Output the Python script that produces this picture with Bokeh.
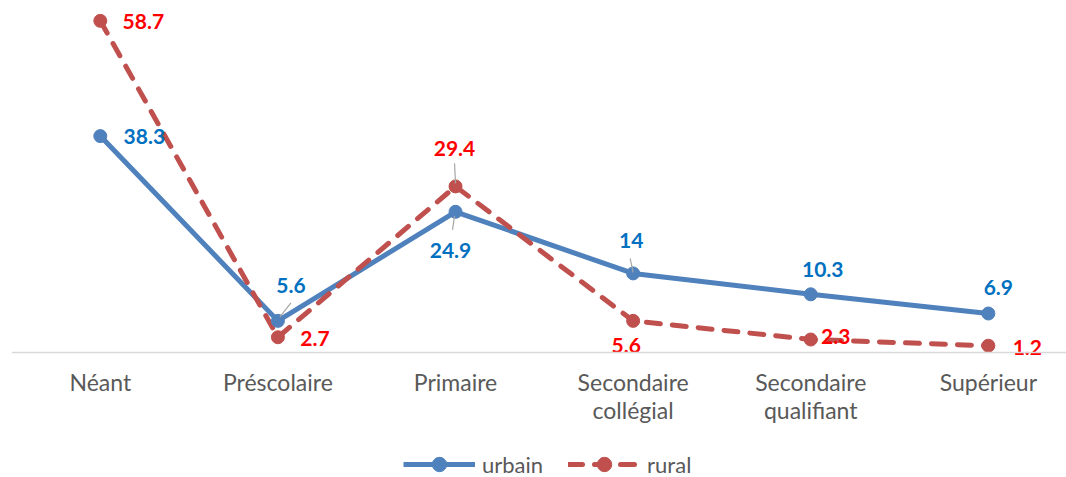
from bokeh.plotting import figure
from bokeh.models import Range1d, FixedTicker, ColumnDataSource, Legend, LegendItem
from bokeh.core.properties import value
from bokeh.embed import file_html
from bokeh.resources import INLINE

# ---- data ----
categories = ["Néant", "Préscolaire", "Primaire", "Secondaire\ncollégial",
              "Secondaire\nqualifiant", "Supérieur"]
urbain = [38.3, 5.6, 24.9, 14, 10.3, 6.9]
rural = [58.7, 2.7, 29.4, 5.6, 2.3, 1.2]
urbain_labels = ["38.3", "5.6", "24.9", "14", "10.3", "6.9"]
rural_labels = ["58.7", "2.7", "29.4", "5.6", "2.3", "1.2"]

# ---- label placement (screen px, style only) ----
urbain_dx = [44, 13, -5, -2, 12, 10]
urbain_dy = [0, -35, 39, -33, -25, -26]
rural_dx = [43, 37, -1, -7, 25, 39]
rural_dy = [1, 1, -38, 25, -3, 2]
# leader lines: (series, index, start dx, start dy, end dx, end dy) in px
leaders = [("u", 1, 2, -4, 13, -18),
           ("r", 2, -1, -23, 0, -3),
           ("u", 2, -3, 18, -1, 4),
           ("u", 3, -3, -15, 0, -1)]

FONT = "Lato"
BLUE = "#4F81BD"
RED = "#C0504D"
W, H = 1066, 477
BL = 11
PX_PER_UNIT = 5.65       # vertical scale
AXIS_Y_PX = 352          # screen row of the value 0
X0, X1 = -0.5, 5.44
Y0 = -(H - AXIS_Y_PX) / PX_PER_UNIT
Y1 = AXIS_Y_PX / PX_PER_UNIT

xs = list(range(len(categories)))

p = figure(width=W, height=H, output_backend="svg", toolbar_location=None,
           x_range=Range1d(X0, X1), y_range=Range1d(Y0, Y1),
           y_axis_location=None, min_border_left=BL, min_border_right=0,
           min_border_top=0, min_border_bottom=0)
p.outline_line_color = None
p.xgrid.visible = False
p.ygrid.visible = False
p.background_fill_color = "white"
p.border_fill_color = "white"

ax = p.xaxis[0]
ax.fixed_location = 0
ax.ticker = FixedTicker(ticks=xs)
ax.major_label_overrides = {i: c for i, c in zip(xs, categories)}
ax.axis_line_color = "#d9d9d9"
ax.axis_line_width = 1.5
ax.major_tick_line_color = None
ax.minor_tick_line_color = None
ax.major_label_text_font = FONT
ax.major_label_text_font_size = "23px"
ax.major_label_text_color = "#595959"
ax.major_label_text_line_height = 1.01
ax.major_label_standoff = 9

src_u = ColumnDataSource(dict(x=xs, y=urbain, t=urbain_labels, dx=urbain_dx, dy=urbain_dy))
src_r = ColumnDataSource(dict(x=xs, y=rural, t=rural_labels, dx=rural_dx, dy=rural_dy))

lu = p.line("x", "y", source=src_u, line_color=BLUE, line_width=5, line_join="round")
lr = p.line("x", "y", source=src_r, line_color=RED, line_width=5, line_dash="14 12",
            line_cap="round", line_join="round")
su = p.scatter("x", "y", source=src_u, size=13, fill_color=BLUE, line_color=BLUE)
sr = p.scatter("x", "y", source=src_r, size=13, fill_color=RED, line_color=RED)

# leader lines
px_x = (W - BL) / (X1 - X0)
px_y = PX_PER_UNIT
lx0, ly0, lx1, ly1 = [], [], [], []
for s, i, sdx, sdy, edx, edy in leaders:
    yv = urbain[i] if s == "u" else rural[i]
    lx0.append(xs[i] + sdx / px_x)
    ly0.append(yv - sdy / px_y)
    lx1.append(xs[i] + edx / px_x)
    ly1.append(yv - edy / px_y)
p.segment(lx0, ly0, lx1, ly1, line_color="#a6a6a6", line_width=1.2)

p.text("x", "y", text="t", source=src_u, x_offset="dx", y_offset="dy",
       text_align="center", text_baseline="middle", text_font=value(FONT),
       text_font_style="bold", text_font_size="21px", text_color="#0070C0")
p.text("x", "y", text="t", source=src_r, x_offset="dx", y_offset="dy",
       text_align="center", text_baseline="middle", text_font=value(FONT),
       text_font_style="bold", text_font_size="21px", text_color="#FF0000")

legend = Legend(items=[LegendItem(label="urbain", renderers=[lu, su]),
                       LegendItem(label="rural", renderers=[lr, sr])],
                location=(392, -5), orientation="horizontal",
                glyph_width=72, glyph_height=36, label_standoff=7, spacing=25,
                padding=0, margin=0, border_line_color=None,
                background_fill_alpha=0, label_text_font=FONT,
                label_text_font_size="22px", label_text_color="#595959")
p.add_layout(legend, "center")

open("out.html", "w").write(file_html(p, INLINE))
